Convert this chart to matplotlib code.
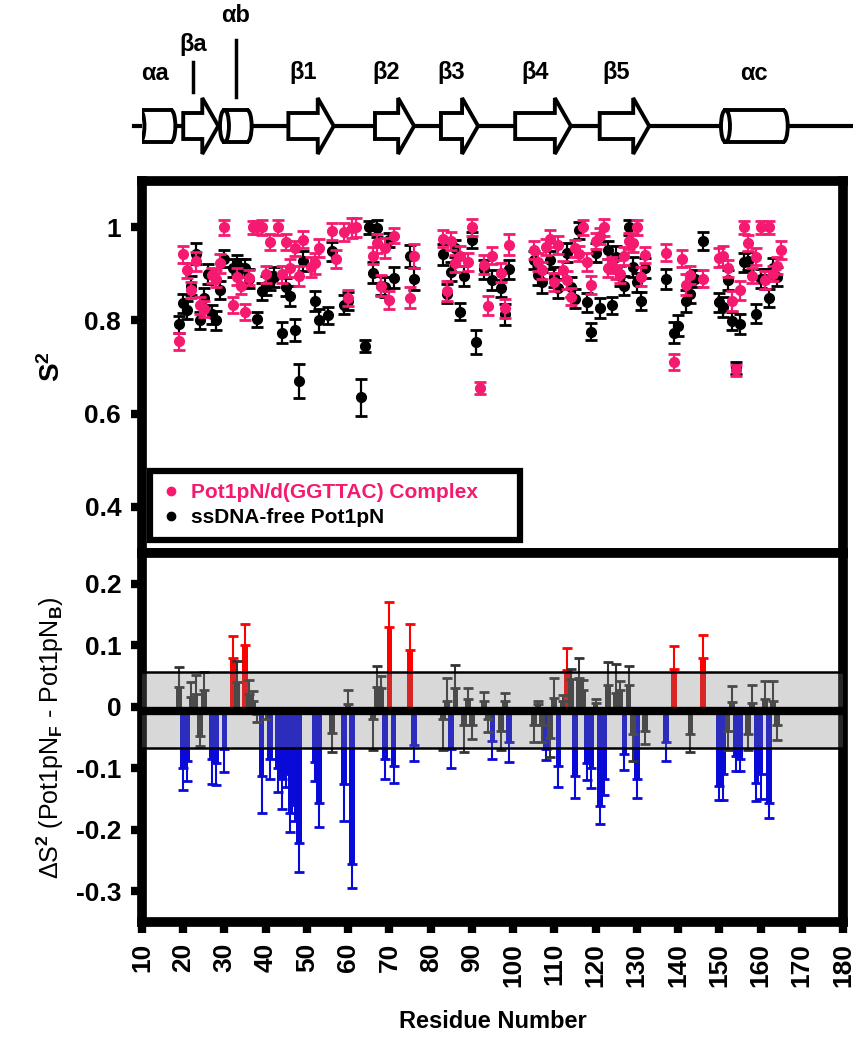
import matplotlib
matplotlib.use("Agg")
import matplotlib.pyplot as plt
import numpy as np
from matplotlib.lines import Line2D
from matplotlib.patches import Ellipse, Polygon, Rectangle

plt.rcParams["font.family"] = ["Liberation Sans", "DejaVu Sans"]
plt.rcParams["font.weight"] = "bold"
plt.rcParams["mathtext.fontset"] = "custom"
plt.rcParams["mathtext.rm"] = "Liberation Sans"
plt.rcParams["mathtext.it"] = "Liberation Sans:italic"
plt.rcParams["mathtext.bf"] = "Liberation Sans:bold"

PINK = "#f51a70"
RED = "#ff0000"
BLUE = "#0a0ad8"
DGRAY = "#333333"

# secondary structure elements (residue ranges)
ss_names = ["αa", "βa", "αb", "β1", "β2", "β3", "β4", "β5", "αc"]
ss_start = [9.5, 20.0, 30.0, 45.5, 66.5, 82.5, 100.5, 121.0, 151.5]
ss_end = [17.0, 28.5, 35.5, 56.5, 76.0, 91.5, 114.0, 133.0, 165.5]
ss_kind = ["helix", "strand", "helix", "strand", "strand", "strand", "strand", "strand", "helix"]

# S2 of the Pot1pN/d(GGTTAC) complex
complex_res = [19, 20, 21, 22, 23, 24, 25, 27, 28, 29, 30,
               32, 33, 34, 35, 36, 37, 38, 39, 40, 41,
               43, 44, 45, 46, 47, 48, 49, 51, 52, 53, 56, 57,
               59, 60, 61, 62, 66, 67, 68, 69, 70, 71, 75, 76,
               83, 84, 85, 86, 87, 89, 90, 92, 93, 94, 95, 97, 98, 99,
               105, 106, 107, 108, 109, 110, 111, 112, 113, 114, 115, 116, 117, 118,
               119, 120, 121, 122, 123, 124, 125, 126, 127, 128, 129, 130, 131, 132,
               137, 139, 141, 142, 143, 146,
               150, 151, 152, 153, 154, 155, 156, 157, 158, 159, 160, 161, 162, 163, 164, 165]
complex_s2 = [0.755, 0.942, 0.908, 0.865, 0.927, 0.833, 0.824, 0.897, 0.890, 0.923, 1.000,
              0.834, 0.894, 0.875, 0.819, 0.892, 1.000, 1.000, 1.000, 0.899, 0.969,
              1.000, 0.899, 0.969, 0.913, 0.955, 0.896, 0.974, 0.915, 0.923, 0.956, 0.992, 0.932,
              0.991, 0.849, 0.999, 1.000, 0.939, 0.966, 0.875, 0.956, 0.844, 0.982, 0.849, 0.939,
              0.976, 0.863, 0.971, 0.923, 0.939, 0.926, 1.000, 0.655, 0.920, 0.832, 0.939, 0.903, 0.826, 0.963,
              0.951, 0.926, 0.908, 0.958, 0.976, 0.883, 0.962, 0.908, 0.887, 0.851, 0.955, 0.944, 1.000, 0.926,
              0.876, 0.971, 0.982, 1.000, 0.913, 0.920, 0.910, 0.899, 0.939, 0.971, 0.966, 1.000, 0.894, 0.941,
              0.946, 0.711, 0.933, 0.877, 0.898, 0.890,
              0.935, 0.939, 0.912, 0.842, 0.693, 0.865, 1.000, 0.966, 0.896, 0.937, 1.000, 0.887, 1.000, 0.901, 0.918, 0.951]
complex_err = [0.019, 0.018, 0.016, 0.017, 0.020, 0.018, 0.017, 0.016, 0.018, 0.020, 0.016,
               0.017, 0.018, 0.019, 0.017, 0.016, 0.015, 0.015, 0.016, 0.018, 0.017,
               0.016, 0.019, 0.018, 0.020, 0.017, 0.022, 0.019, 0.021, 0.023, 0.020, 0.018, 0.020,
               0.019, 0.017, 0.022, 0.020, 0.018, 0.020, 0.022, 0.021, 0.020, 0.016, 0.022, 0.026,
               0.019, 0.022, 0.020, 0.018, 0.021, 0.019, 0.018, 0.012, 0.020, 0.021, 0.018, 0.020, 0.020, 0.022,
               0.019, 0.020, 0.018, 0.017, 0.018, 0.020, 0.019, 0.021, 0.020, 0.018, 0.019, 0.017, 0.016, 0.019,
               0.020, 0.018, 0.017, 0.018, 0.019, 0.017, 0.021, 0.019, 0.020, 0.018, 0.019, 0.016, 0.020, 0.018,
               0.018, 0.018, 0.019, 0.022, 0.020, 0.018,
               0.020, 0.021, 0.019, 0.022, 0.012, 0.021, 0.014, 0.017, 0.016, 0.018, 0.014, 0.019, 0.014, 0.017, 0.018, 0.019]

# S2 of ssDNA-free Pot1pN
free_res = [19, 20, 21, 22, 23, 24, 25, 26, 27, 28, 29, 30,
            32, 33, 34, 35, 36, 38, 39, 40, 41, 42,
            44, 45, 46, 47, 48, 49, 52, 53, 55, 56, 59, 60,
            63, 64, 65, 66, 67, 68, 69, 70, 71, 75, 76,
            83, 84, 85, 86, 87, 88, 90, 91, 93, 95, 97, 98, 99,
            105, 106, 107, 109, 110, 111, 113, 114, 115, 116,
            118, 119, 120, 121, 123, 124, 125, 126, 127, 128, 129, 130, 131, 132,
            137, 139, 140, 142, 143, 144, 146,
            150, 151, 152, 153, 154, 155, 156, 157, 159, 160, 161, 162, 163, 164]
free_s2 = [0.792, 0.837, 0.822, 0.875, 0.944, 0.800, 0.849, 0.900, 0.813, 0.800, 0.865, 0.933,
           0.913, 0.920, 0.913, 0.913, 0.890, 0.803, 0.863, 0.875, 0.885, 0.894,
           0.774, 0.872, 0.853, 0.779, 0.670, 0.928, 0.842, 0.800, 0.811, 0.949, 0.834, 0.842,
           0.635, 0.745, 1.000, 0.903, 0.998, 0.875, 0.872, 0.973, 0.892, 0.939, 0.889,
           0.942, 0.858, 0.905, 0.955, 0.819, 0.896, 0.973, 0.753, 0.910, 0.887, 0.869, 0.813, 0.910,
           0.930, 0.897, 0.882, 0.930, 0.894, 0.869, 0.946, 0.872, 0.847, 0.994,
           0.839, 0.776, 0.946, 0.827, 0.951, 0.833, 0.937, 0.896, 0.875, 1.000, 0.915, 0.882, 0.842, 0.913,
           0.889, 0.774, 0.789, 0.842, 0.858, 0.890, 0.971,
           0.839, 0.829, 0.887, 0.799, 0.698, 0.792, 0.925, 0.928, 0.815, 0.890, 0.889, 0.849, 0.913, 0.894]
free_err = [0.018, 0.020, 0.019, 0.021, 0.022, 0.018, 0.020, 0.022, 0.021, 0.020, 0.019, 0.018,
            0.020, 0.021, 0.019, 0.020, 0.021, 0.016, 0.018, 0.020, 0.019, 0.021,
            0.022, 0.020, 0.021, 0.024, 0.036, 0.022, 0.022, 0.024, 0.018, 0.020, 0.021, 0.020,
            0.040, 0.012, 0.015, 0.022, 0.018, 0.020, 0.021, 0.016, 0.022, 0.024, 0.023,
            0.022, 0.021, 0.020, 0.019, 0.018, 0.022, 0.017, 0.026, 0.020, 0.021, 0.019, 0.022, 0.021,
            0.020, 0.021, 0.022, 0.019, 0.022, 0.021, 0.020, 0.022, 0.021, 0.018,
            0.021, 0.018, 0.020, 0.022, 0.019, 0.018, 0.024, 0.022, 0.021, 0.016, 0.021, 0.020, 0.020, 0.022,
            0.021, 0.022, 0.023, 0.024, 0.021, 0.019, 0.020,
            0.021, 0.022, 0.021, 0.020, 0.012, 0.022, 0.021, 0.020, 0.020, 0.021, 0.022, 0.019, 0.021, 0.020]

# delta S2 (free - bound)
dS2_res = [19, 20, 21, 22, 23, 24, 25, 27, 28, 30, 32, 33, 35, 36, 37, 38, 39, 40,
           41, 43, 44, 45, 46, 47, 48, 52, 53, 56, 59, 60, 61, 66, 67, 68, 69, 70,
           71, 75, 76, 83, 84, 85, 86, 88, 89, 90, 93, 94, 95, 97, 98, 99,
           105, 106, 107, 108, 109, 110, 111, 112, 113, 114, 115, 116, 117, 118, 119, 120,
           121, 122, 123, 125, 126, 127, 128, 129, 130, 132, 137, 139, 143, 146,
           150, 151, 152, 153, 154, 155, 157, 158, 159, 160, 161, 162, 163, 164]
dS2_val = [0.032, -0.099, -0.088, 0.016, 0.020, -0.047, 0.027, -0.085, -0.091, -0.069, 0.080, 0.040,
           0.100, 0.021, 0.010, -0.012, -0.113, -0.008,
           -0.085, -0.100, -0.118, -0.110, -0.173, -0.160, -0.222, -0.090, -0.156, -0.042, -0.126, 0.004,
           -0.255, -0.020, 0.032, 0.030, -0.085, 0.129,
           -0.096, 0.092, -0.063, -0.020, 0.010, -0.069, 0.030, -0.030, 0.012, -0.030, 0.010, -0.020,
           -0.055, -0.040, 0.010, -0.058,
           -0.030, 0.004, -0.030, -0.069, -0.050, 0.015, -0.096, 0.010, 0.060, 0.045, -0.113, 0.047,
           0.028, -0.091, -0.100, 0.006,
           -0.162, -0.118, 0.036, 0.023, 0.027, -0.077, 0.035, -0.045, -0.118, -0.040, -0.058, 0.062,
           -0.045, 0.079,
           -0.129, -0.110, -0.040, 0.008, -0.080, -0.085, -0.045, 0.006, -0.124, -0.110, 0.012, -0.156,
           0.010, -0.030]
dS2_err = [0.032, 0.037, 0.033, 0.025, 0.031, 0.017, 0.029, 0.040, 0.037, 0.037, 0.035, 0.034,
           0.034, 0.022, 0.015, 0.013, 0.059, 0.012,
           0.033, 0.039, 0.048, 0.020, 0.031, 0.025, 0.047, 0.030, 0.039, 0.031, 0.060, 0.024,
           0.040, 0.050, 0.035, 0.020, 0.033, 0.041,
           0.028, 0.042, 0.025, 0.050, 0.037, 0.031, 0.038, 0.044, 0.019, 0.022, 0.014, 0.021,
           0.030, 0.030, 0.013, 0.032,
           0.028, 0.005, 0.028, 0.017, 0.032, 0.032, 0.034, 0.009, 0.035, 0.017, 0.036, 0.033,
           0.015, 0.028, 0.032, 0.007,
           0.028, 0.025, 0.037, 0.047, 0.015, 0.026, 0.031, 0.043, 0.031, 0.021, 0.031, 0.037,
           0.029, 0.037,
           0.022, 0.041, 0.030, 0.025, 0.024, 0.020, 0.025, 0.030, 0.030, 0.040, 0.030, 0.025,
           0.032, 0.024]

BAND_LO, BAND_HI = -0.067, 0.057
MEAN_LEVEL = -0.007

W_PX, H_PX = 854, 1050
fig = plt.figure(figsize=(W_PX / 100, H_PX / 100), dpi=100)
left, width = 142 / W_PX, 701 / W_PX
ax_top = fig.add_axes([left, 1 - 553 / H_PX, width, 372 / H_PX])
ax_bot = fig.add_axes([left, 1 - 922 / H_PX, width, 369 / H_PX])
ax_ss = fig.add_axes([left, 1 - 165 / H_PX, width, 165 / H_PX])

# ---- secondary structure cartoon
ax_ss.set_xlim(10, 180)
ax_ss.set_ylim(165, 0)
ax_ss.axis("off")
res_per_px = 170 / 701
y0 = 126
ax_ss.plot([8, 182], [y0, y0], color="black", lw=3, clip_on=False, zorder=1)
for name, s, e, kind in zip(ss_names, ss_start, ss_end, ss_kind):
    if kind == "strand":
        hl = 16 * res_per_px
        pts = [(s, y0 - 13), (e - hl, y0 - 13), (e - hl, y0 - 28), (e, y0),
               (e - hl, y0 + 28), (e - hl, y0 + 13), (s, y0 + 13)]
        ax_ss.add_patch(Polygon(pts, closed=True, fc="white", ec="black", lw=2.8,
                                joinstyle="miter", zorder=2, clip_on=False))
        xc = (s + e - hl) / 2
    else:
        ew = 9 * res_per_px
        ax_ss.add_patch(Ellipse((e, y0), ew, 32, fc="white", ec="black", lw=2.8, zorder=2))
        ax_ss.add_patch(Rectangle((s, y0 - 16), e - s, 32, fc="white", ec="none", zorder=3))
        ax_ss.plot([s, e], [y0 - 16, y0 - 16], color="black", lw=2.8, zorder=4)
        ax_ss.plot([s, e], [y0 + 16, y0 + 16], color="black", lw=2.8, zorder=4)
        ax_ss.add_patch(Ellipse((s, y0), ew, 32, fc="white", ec="black", lw=2.8, zorder=5))
        xc = (s + e) / 2
    if name == "βa":
        ax_ss.text(xc, 44, name, ha="center", va="center", fontsize=17)
        ax_ss.plot([xc, xc], [62, 92], color="black", lw=2.5)
    elif name == "αb":
        ax_ss.text(xc, 16, name, ha="center", va="center", fontsize=17)
        ax_ss.plot([xc, xc], [40, 97], color="black", lw=2.5)
    else:
        ax_ss.text(xc, 73, name, ha="center", va="center", fontsize=17)

# ---- S2 panel
ax_top.errorbar(free_res, free_s2, yerr=free_err, fmt="o", color="black", ms=7,
                capsize=4.5, capthick=2, elinewidth=1.6, zorder=2)
ax_top.errorbar(complex_res, complex_s2, yerr=complex_err, fmt="o", color=PINK, ms=7,
                capsize=4.5, capthick=2, elinewidth=1.6, zorder=3)
ax_top.set_xlim(10, 180)
ax_top.set_ylim(0.3, 1.1)
ax_top.set_xticks([])
ax_top.set_yticks([0.4, 0.6, 0.8, 1.0])
ax_top.set_yticklabels(["0.4", "0.6", "0.8", "1"])
ax_top.set_ylabel("S$^\\mathbf{2}$", fontsize=20, fontweight="bold")
ax_top.yaxis.set_label_coords(-0.108, 0.5)

handles = [Line2D([], [], marker="o", ls="none", color=PINK, ms=6),
           Line2D([], [], marker="o", ls="none", color="black", ms=6)]
leg = ax_top.legend(handles, ["Pot1pN/d(GGTTAC) Complex", "ssDNA-free Pot1pN"],
                    loc="lower left", bbox_to_anchor=(0.011, 0.035, 0.528, 0.2),
                    mode="expand", borderaxespad=0,
                    prop={"weight": "bold", "size": 15}, fancybox=False,
                    edgecolor="black", framealpha=1, handlelength=0.8,
                    handletextpad=0.6, labelspacing=0.3, borderpad=0.6)
leg.get_frame().set_linewidth(4.5)
for txt, c in zip(leg.get_texts(), [PINK, "black"]):
    txt.set_color(c)

# ---- delta S2 panel
res = np.array(dS2_res)
val = np.array(dS2_val)
err = np.array(dS2_err)
lo = np.where(val < 0, err, 0)
hi = np.where(val > 0, err, 0)
groups = [(val > 0.055, RED), (val < -0.052, BLUE),
          ((val <= 0.055) & (val >= -0.052), DGRAY)]
for mask, color in groups:
    ax_bot.bar(res[mask], val[mask], width=1.4, color=color,
               yerr=[lo[mask], hi[mask]],
               error_kw=dict(ecolor=color, elinewidth=1.5, capsize=3.5, capthick=2),
               zorder=2)
ax_bot.axhspan(BAND_LO, BAND_HI, facecolor="0.5", alpha=0.3, lw=0, zorder=3)
ax_bot.axhline(BAND_HI, color="black", lw=1.8, zorder=4)
ax_bot.axhline(BAND_LO, color="black", lw=1.8, zorder=4)
ax_bot.axhline(MEAN_LEVEL, color="black", lw=6, zorder=5)
ax_bot.set_xlim(10, 180)
ax_bot.set_ylim(-0.35, 0.25)
ax_bot.set_yticks([-0.3, -0.2, -0.1, 0, 0.1, 0.2])
ax_bot.set_yticklabels(["-0.3", "-0.2", "-0.1", "0", "0.1", "0.2"])
ax_bot.set_xticks(np.arange(10, 181, 10))
ax_bot.tick_params(axis="x", labelrotation=90)
ax_bot.set_ylabel("ΔS$^2$ (Pot1pN$_\\mathrm{F}$ - Pot1pN$_\\mathrm{B}$)",
                  fontsize=18, fontweight="normal")
ax_bot.yaxis.set_label_coords(-0.108, 0.5)

for ax in (ax_top, ax_bot):
    for sp in ax.spines.values():
        sp.set_linewidth(7)
    ax.tick_params(direction="out", length=8, width=6, labelsize=19, pad=7)

fig.text(left + width / 2, 1 - 1022 / H_PX, "Residue Number", ha="center", va="center",
         fontsize=17)

fig.savefig("out.png", dpi=100)
